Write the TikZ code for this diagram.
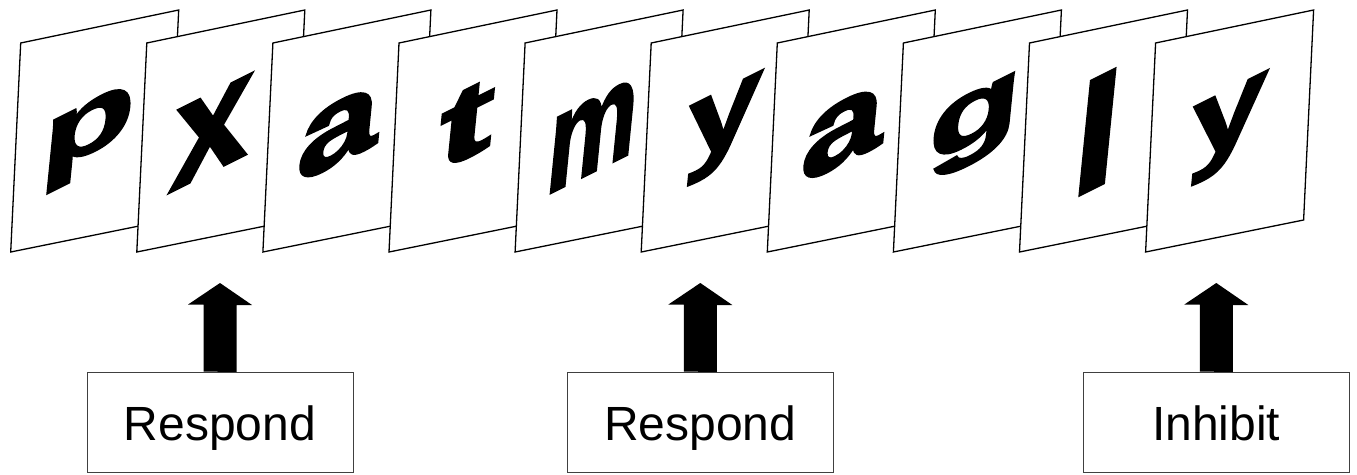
\documentclass[tikz,border=0pt]{standalone}
\usepackage{fontspec}
\setmainfont{Liberation Sans}
\newfontfamily\heavyfont{Liberation Sans Bold}[FakeBold=2]
\tikzset{
  card/.style={draw=black, fill=white, line width=1.3pt, line join=miter},
  glyph/.style={inner sep=0pt, font=\heavyfont, cm={1,0.5,0.1,1,(0,0)}},
  labelbox/.style={draw=black!75, line width=0.9pt, minimum width=266pt,
    minimum height=100pt, inner sep=0pt, text height=36pt, text depth=0pt,
    font=\fontsize{48}{56}\selectfont},
  blockarrow/.style={fill=black},
}
\begin{document}
\begin{tikzpicture}[x=1pt,y=-1pt]
\useasboundingbox (0,0) rectangle (1357,474);
% cards with letters (drawn left to right so later cards lie on top)
\foreach \i/\xo/\ch/\w/\h/\cx/\cy in {
  1/20.7/p/93/75/87.5/138,
  2/146.8/x/78/82/211.5/132.5,
  3/272.9/a/81/66/338.5/132.5,
  4/399.0/t/55/73/466.5/124,
  5/525.1/m/90/77/592.5/135.5,
  6/651.2/y/74/83/722.5/129.5,
  7/777.3/a/82/67/843/132.5,
  8/903.4/g/92/75/974/127,
  9/1029.5/l/47/114/1097.5/132,
  10/1155.6/y/75/82/1227/129.5}{
  \draw[card] (\xo,43) -- (\xo+158,10) -- (\xo+148,220) -- (\xo-10,252) -- cycle;
  \node[glyph] (L\i) at (\cx,\cy) {\resizebox*{\w pt}{\h pt}{\ch}};
}
% response boxes
\node[labelbox] (b1) at (220,422) {Respond};
\node[labelbox] (b2) at (700.3,422) {Respond};
\node[labelbox] (b3) at (1216.3,422) {Inhibit};
% arrow tips
\coordinate (t1) at (220,283);
\coordinate (t2) at (700.3,283);
\coordinate (t3) at (1216.3,283);
\foreach \b/\t in {b1/t1,b2/t2,b3/t3}{
  \fill[blockarrow] ([xshift=-16.5pt]\b.north) -- ++(0,-67) -- ++(-15.5,0) -- (\t)
    -- ++(32,22) -- ++(-15.5,0) -- ++(0,67) -- cycle;
}
\end{tikzpicture}
\end{document}
